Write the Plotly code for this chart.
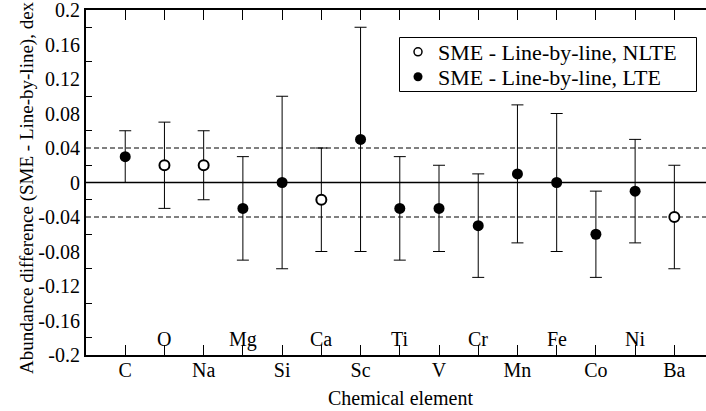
import plotly.graph_objects as go

# ---------------- data ----------------
elements = ["C", "O", "Na", "Mg", "Si", "Ca", "Sc", "Ti", "V", "Cr", "Mn", "Fe", "Co", "Ni", "Ba"]
abund_diff = [0.03, 0.02, 0.02, -0.03, 0.00, -0.02, 0.05, -0.03, -0.03, -0.05, 0.01, 0.00, -0.06, -0.01, -0.04]
abund_err = [0.03, 0.05, 0.04, 0.06, 0.10, 0.06, 0.13, 0.06, 0.05, 0.06, 0.08, 0.08, 0.05, 0.06, 0.06]
mode = ["LTE", "NLTE", "NLTE", "LTE", "LTE", "NLTE", "LTE", "LTE", "LTE", "LTE", "LTE", "LTE", "LTE", "LTE", "NLTE"]

y_major = [0.2, 0.16, 0.12, 0.08, 0.04, 0.0, -0.04, -0.08, -0.12, -0.16, -0.2]
y_major_text = ["0.2", "0.16", "0.12", "0.08", "0.04", "0", "-0.04", "-0.08", "-0.12", "-0.16", "-0.2"]
y_minor = [0.18, 0.14, 0.10, 0.06, 0.02, -0.02, -0.06, -0.10, -0.14, -0.18]
zero_level = [0.0]
dash_levels = [-0.04, 0.04]

label_nlte = "SME - Line-by-line, NLTE"
label_lte = "SME - Line-by-line, LTE"
x_title = "Chemical element"
y_title = "Abundance difference (SME - Line-by-line), dex"

FONT = "Liberation Serif"

idx = list(range(len(elements)))
lte = [i for i in idx if mode[i] == "LTE"]
nlte = [i for i in idx if mode[i] == "NLTE"]

fig = go.Figure()

# LTE (filled)
fig.add_trace(go.Scatter(
    x=lte, y=[abund_diff[i] for i in lte], mode="markers",
    marker=dict(symbol="circle", size=11, color="black"),
    error_y=dict(type="data", array=[abund_err[i] for i in lte], color="black", thickness=1, width=6),
    showlegend=False, cliponaxis=False))
# NLTE (open)
fig.add_trace(go.Scatter(
    x=nlte, y=[abund_diff[i] for i in nlte], mode="markers",
    marker=dict(symbol="circle", size=10, color="white", line=dict(color="black", width=2)),
    error_y=dict(type="data", array=[abund_err[i] for i in nlte], color="black", thickness=1, width=6),
    showlegend=False, cliponaxis=False))

# legend entries (two single-entry legends inside one drawn frame)
fig.add_trace(go.Scatter(x=[None], y=[None], mode="markers", name=label_nlte, legend="legend",
                         marker=dict(symbol="circle", size=8, color="white", line=dict(color="black", width=1.5))))
fig.add_trace(go.Scatter(x=[None], y=[None], mode="markers", name=label_lte, legend="legend2",
                         marker=dict(symbol="circle", size=9, color="black")))

# plot area: x 86..706 px, y 10..355 px
def px_x(p):
    return (p - 86) / 620.0

def px_y(p):
    return (355 - p) / 345.0

shapes = []
for v in zero_level:
    shapes.append(dict(type="line", xref="paper", x0=0, x1=1, yref="y", y0=v, y1=v,
                       line=dict(color="black", width=1.5), layer="below"))
for v in dash_levels:
    shapes.append(dict(type="line", xref="paper", x0=0, x1=1, yref="y", y0=v, y1=v,
                       line=dict(color="black", width=1, dash="5px,3px"), layer="below"))
# legend frame
shapes.append(dict(type="rect", xref="paper", yref="paper",
                   x0=px_x(399.5), x1=px_x(696.5), y0=px_y(91.5), y1=px_y(37.5),
                   line=dict(color="black", width=1), fillcolor="white", layer="below"))

annotations = []
for i in idx:
    if i % 2 == 1:
        annotations.append(dict(x=i, xref="x", y=px_y(339), yref="paper", text=elements[i],
                                showarrow=False, yanchor="middle", xanchor="center",
                                font=dict(family=FONT, size=20, color="black")))
annotations.append(dict(x=px_x(400), xref="paper", y=px_y(398), yref="paper", text=x_title,
                        showarrow=False, yanchor="middle", xanchor="center",
                        font=dict(family=FONT, size=20, color="black")))
annotations.append(dict(x=px_x(27), xref="paper", y=px_y(188), yref="paper", text=y_title, textangle=-90,
                        showarrow=False, yanchor="middle", xanchor="center",
                        font=dict(family=FONT, size=19, color="black")))

leg_common = dict(xanchor="left", yanchor="middle", borderwidth=0, bgcolor="rgba(0,0,0,0)",
                  font=dict(family=FONT, size=22, color="black"))

fig.update_layout(
    width=706, height=411,
    margin=dict(l=86, r=0, t=10, b=56),
    paper_bgcolor="white", plot_bgcolor="white",
    font=dict(family=FONT, size=20, color="black"),
    shapes=shapes, annotations=annotations,
    legend=dict(x=px_x(398), y=px_y(52), **leg_common),
    legend2=dict(x=px_x(398), y=px_y(77), **leg_common),
    xaxis=dict(range=[-1, 14.807], tickmode="array", tickvals=idx,
               ticktext=[e if i % 2 == 0 else "" for i, e in enumerate(elements)],
               ticks="inside", ticklen=10, tickwidth=1, tickcolor="black",
               showline=True, linewidth=2, linecolor="black", mirror="ticks",
               showgrid=False, zeroline=False, ticklabelstandoff=-4,
               tickfont=dict(family=FONT, size=20, color="black")),
    yaxis=dict(range=[-0.2, 0.2], tickmode="array", tickvals=y_major, ticktext=y_major_text,
               ticks="", showline=True, linewidth=2, linecolor="black",
               showgrid=False, zeroline=False, ticklabeloverflow="allow",
               minor=dict(tickmode="array", tickvals=y_minor, ticks="inside", ticklen=6,
                          tickwidth=1, tickcolor="black", showgrid=False),
               tickfont=dict(family=FONT, size=20, color="black")),
    yaxis2=dict(range=[-0.2, 0.2], overlaying="y", side="right", anchor="x",
                tickmode="array", tickvals=y_major, ticks="inside", ticklen=4, tickwidth=1,
                tickcolor="black", showticklabels=False, showline=False, showgrid=False,
                zeroline=False),
)

fig.write_html("out.html", config={"displayModeBar": False},
               post_script="document.body.style.margin='0px';")
